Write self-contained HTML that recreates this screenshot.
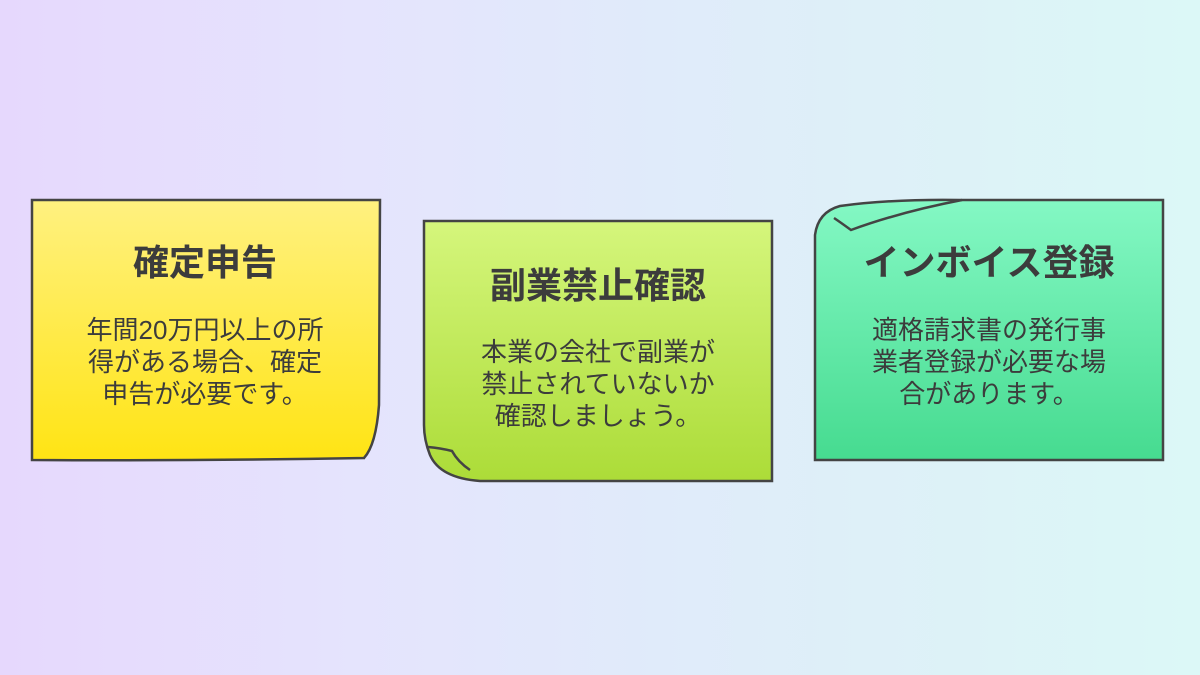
<!DOCTYPE html>
<html><head><meta charset="utf-8"><style>
html,body{margin:0;padding:0;width:1200px;height:675px;overflow:hidden}
body{background:linear-gradient(90deg,#e6d8fd 0%,#e5e4fd 30%,#e0ebfa 55%,#ddf2f7 80%,#dcf8f7 100%)}
svg{display:block}
text{font-family:"Liberation Sans","Noto Sans CJK JP",sans-serif;fill:#3c3c3c;text-anchor:middle}
.t{font-size:36px;font-weight:bold}
.b{font-size:26px}
</style></head><body>
<svg width="1200" height="675" viewBox="0 0 1200 675">
<defs>
<linearGradient id="y" x1="0" y1="0" x2="0" y2="1"><stop offset="0" stop-color="#fff180"/><stop offset="1" stop-color="#ffe414"/></linearGradient>
<linearGradient id="g" x1="0" y1="0" x2="0" y2="1"><stop offset="0" stop-color="#d5f67c"/><stop offset="1" stop-color="#acdc38"/></linearGradient>
<linearGradient id="m" x1="0" y1="0" x2="0" y2="1"><stop offset="0" stop-color="#84f8c4"/><stop offset="1" stop-color="#46db90"/></linearGradient>
</defs>
<path d="M32,200 L380,200 L379,405 Q376,445 364,458 L365,458 Q200,461 32,460 Z" fill="url(#y)" stroke="#444" stroke-width="2.5"/>
<text class="t" x="205" y="275">確定申告</text>
<text class="b" x="205" y="339">年間20万円以上の所</text>
<text class="b" x="205" y="371">得がある場合、確定</text>
<text class="b" x="205" y="403">申告が必要です。</text>

<path d="M424,221 L772,221 L772,481 L480,481 Q440,478 430,455 Q424,440 424,425 Z" fill="url(#g)" stroke="#444" stroke-width="2.5"/>
<path d="M428,447 Q440,448 452,451 Q458,462 470,470" fill="none" stroke="#444" stroke-width="2.5"/>
<text class="t" x="598" y="298">副業禁止確認</text>
<text class="b" x="598" y="361">本業の会社で副業が</text>
<text class="b" x="598" y="393">禁止されていないか</text>
<text class="b" x="598" y="425">確認しましょう。</text>

<path d="M815,460 L815,235 Q818,212 840,206 Q890,199 960,200 L1163,200 L1163,460 Z" fill="url(#m)" stroke="#444" stroke-width="2.5"/>
<path d="M834,218 Q840,222 851,230 Q900,212 962,200" fill="none" stroke="#444" stroke-width="2.5"/>
<text class="t" x="989" y="275">インボイス登録</text>
<text class="b" x="989" y="339">適格請求書の発行事</text>
<text class="b" x="989" y="371">業者登録が必要な場</text>
<text class="b" x="989" y="403">合があります。</text>
</svg>
</body></html>
